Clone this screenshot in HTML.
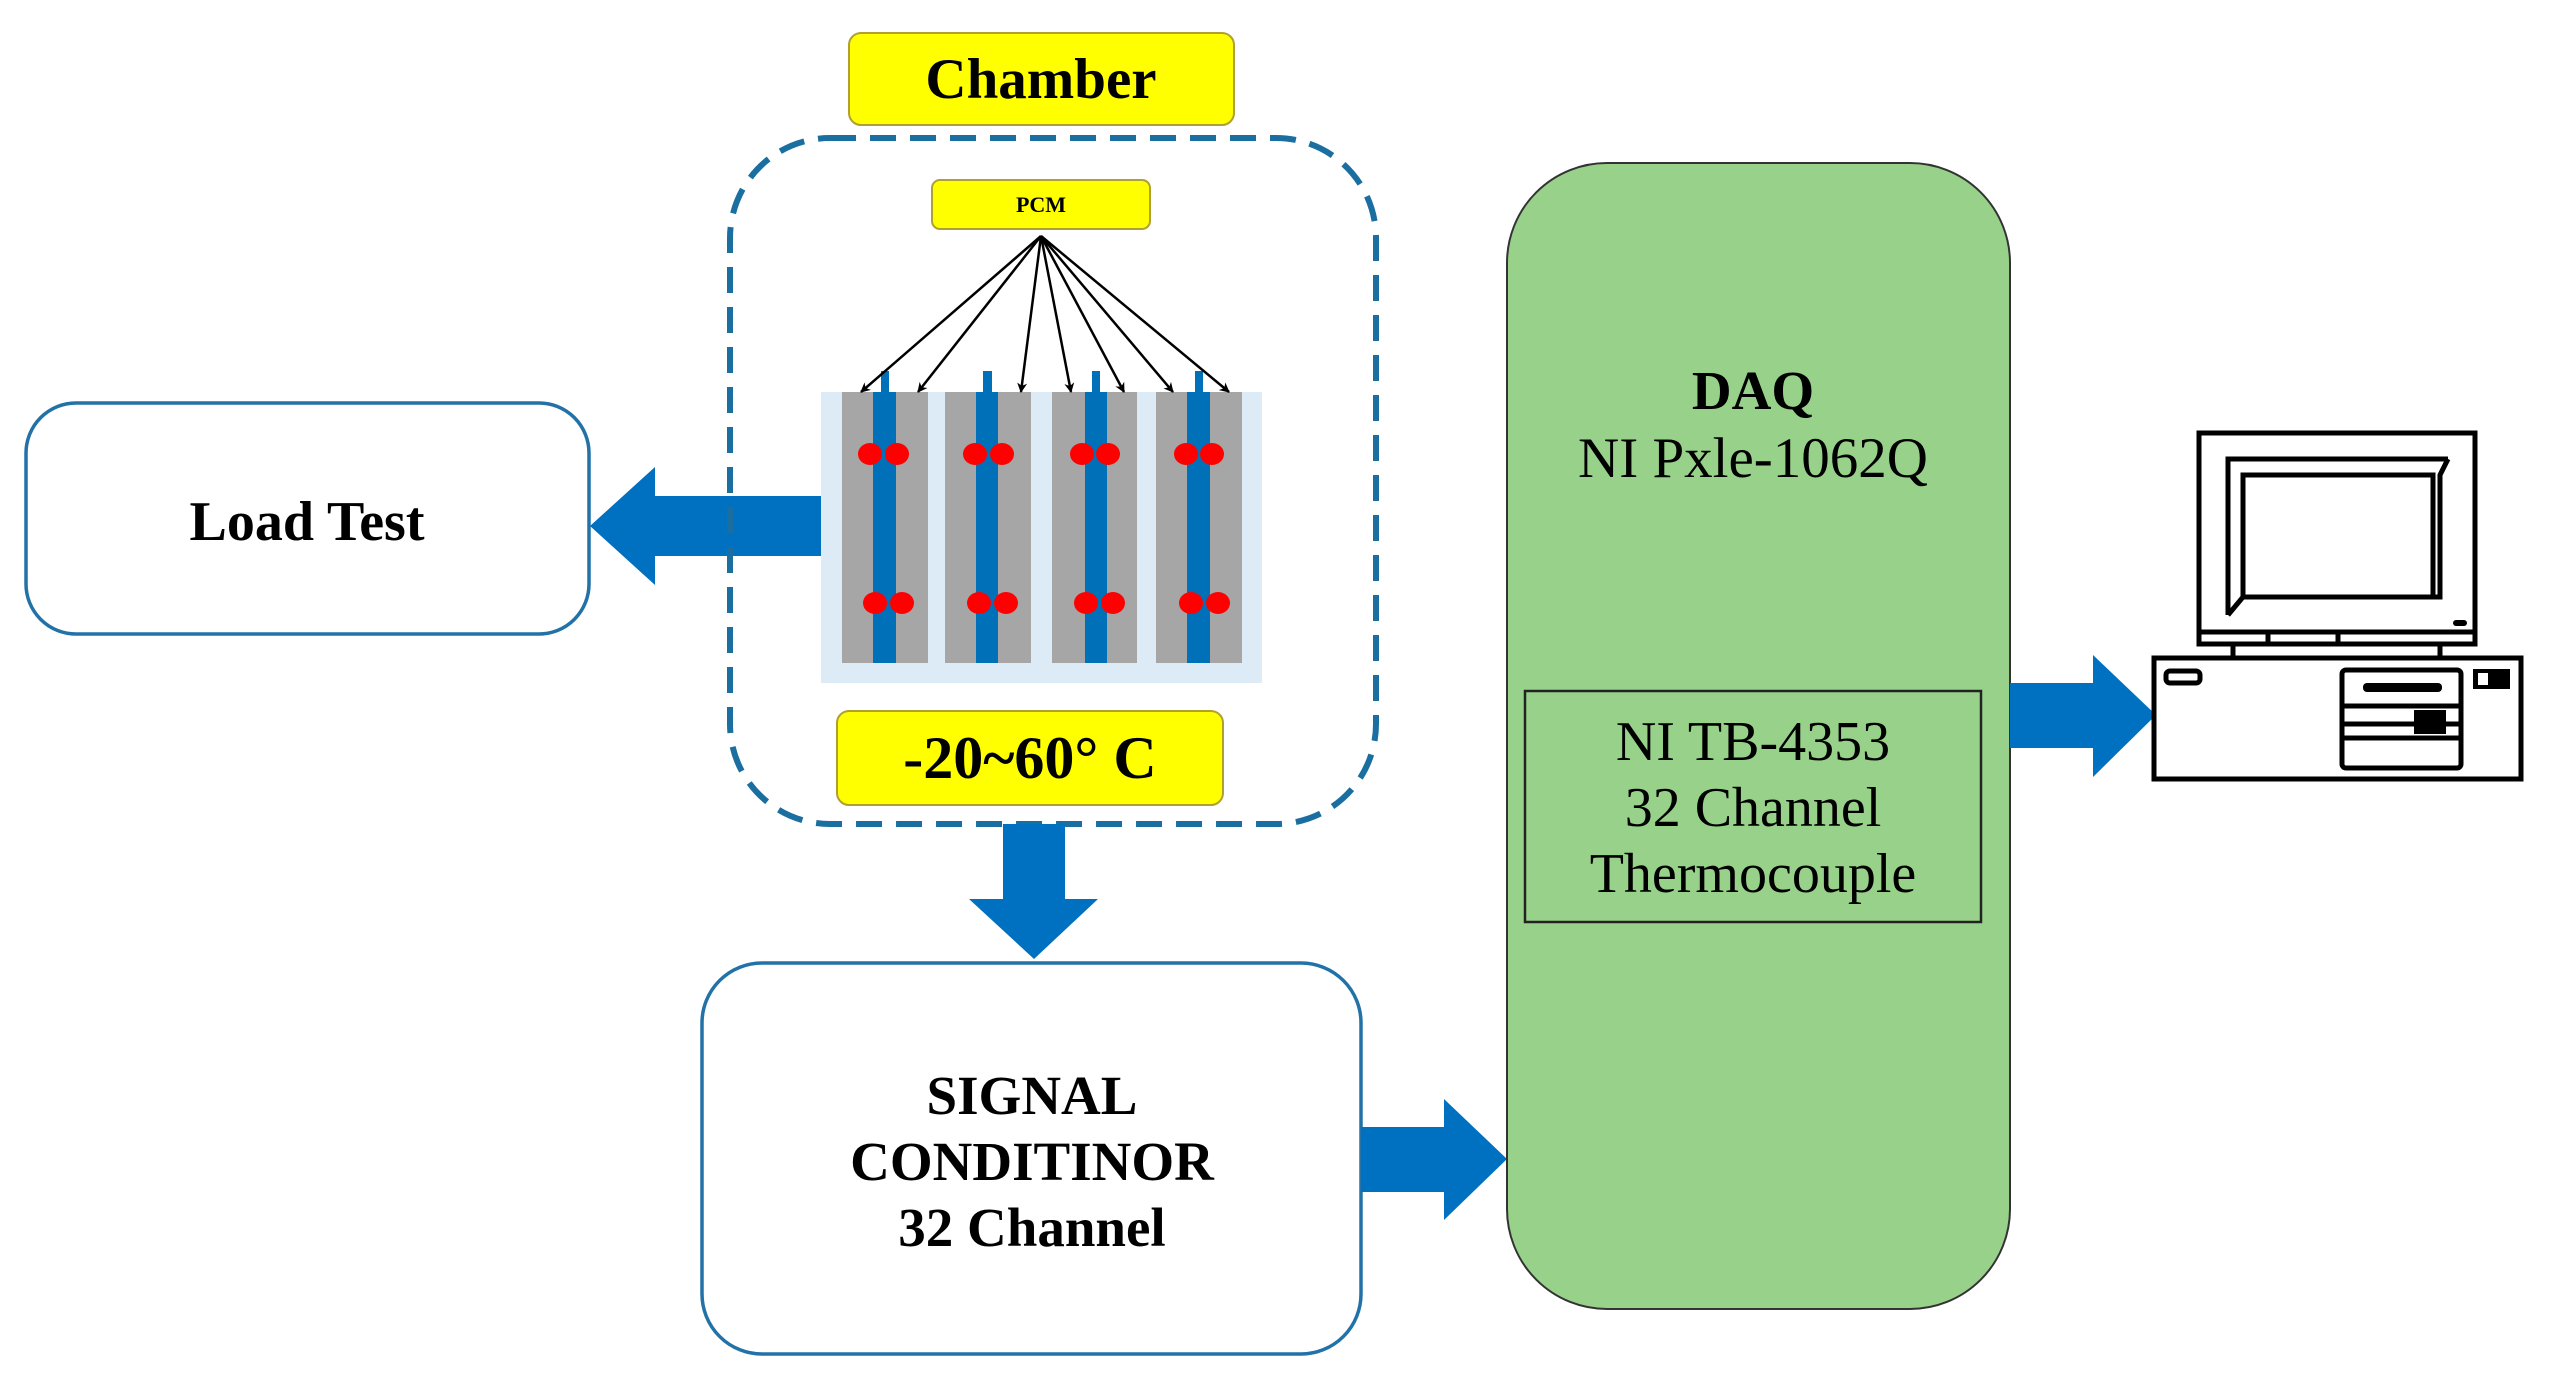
<!DOCTYPE html>
<html><head><meta charset="utf-8"><style>html,body{margin:0;padding:0;background:#fff}svg{display:block}</style></head>
<body>
<svg width="2550" height="1383" viewBox="0 0 2550 1383" xmlns="http://www.w3.org/2000/svg" font-family="'Liberation Serif', serif">
<defs>
<marker id="ah" markerWidth="10" markerHeight="10" refX="9" refY="5" orient="auto" markerUnits="userSpaceOnUse"><path d="M0,0 L10,5 L0,10 L3,5 Z" fill="#000"/></marker>
</defs>
<rect x="26" y="403" width="563" height="231" rx="50" fill="#fff" stroke="#2272a8" stroke-width="3.5"/>
<text x="307" y="540" font-size="56" font-weight="bold" text-anchor="middle">Load Test</text>
<polygon points="821,496 655,496 655,467 590,526 655,585 655,556 821,556" fill="#0070c0"/>
<rect x="849" y="33" width="385" height="92" rx="12" fill="#ffff00" stroke="#b0a030" stroke-width="2"/>
<text x="1041" y="98" font-size="57" font-weight="bold" text-anchor="middle">Chamber</text>
<rect x="730" y="138" width="646" height="686" rx="100" fill="none" stroke="#1a6fa0" stroke-width="6" stroke-dasharray="26,14"/>
<rect x="932" y="180" width="218" height="49" rx="8" fill="#ffff00" stroke="#b0a030" stroke-width="2"/>
<text x="1041" y="212" font-size="22" font-weight="bold" text-anchor="middle">PCM</text>
<rect x="821" y="392" width="441" height="291" fill="#ddebf7"/>
<g fill="#a6a6a6">
<rect x="842" y="392" width="86" height="271"/>
<rect x="945" y="392" width="86" height="271"/>
<rect x="1052" y="392" width="85" height="271"/>
<rect x="1156" y="392" width="86" height="271"/>
</g>
<g fill="#0070b8">
<rect x="873" y="392" width="23" height="271"/><rect x="881" y="371" width="8" height="21"/>
<rect x="976" y="392" width="22" height="271"/><rect x="983" y="371" width="9" height="21"/>
<rect x="1085" y="392" width="22" height="271"/><rect x="1092" y="371" width="8" height="21"/>
<rect x="1187" y="392" width="23" height="271"/><rect x="1195" y="371" width="8" height="21"/>
</g>
<g fill="#ff0000">
<ellipse cx="870" cy="454" rx="12" ry="11"/><ellipse cx="897" cy="454" rx="12" ry="11"/>
<ellipse cx="975" cy="454" rx="12" ry="11"/><ellipse cx="1002" cy="454" rx="12" ry="11"/>
<ellipse cx="1082" cy="454" rx="12" ry="11"/><ellipse cx="1108" cy="454" rx="12" ry="11"/>
<ellipse cx="1186" cy="454" rx="12" ry="11"/><ellipse cx="1212" cy="454" rx="12" ry="11"/>
<ellipse cx="875" cy="603" rx="12" ry="11"/><ellipse cx="902" cy="603" rx="12" ry="11"/>
<ellipse cx="979" cy="603" rx="12" ry="11"/><ellipse cx="1006" cy="603" rx="12" ry="11"/>
<ellipse cx="1086" cy="603" rx="12" ry="11"/><ellipse cx="1113" cy="603" rx="12" ry="11"/>
<ellipse cx="1191" cy="603" rx="12" ry="11"/><ellipse cx="1218" cy="603" rx="12" ry="11"/>
</g>
<g stroke="#000" stroke-width="2.5" marker-end="url(#ah)">
<line x1="1041" y1="236" x2="861" y2="392"/>
<line x1="1041" y1="236" x2="918" y2="392"/>
<line x1="1041" y1="236" x2="1021" y2="392"/>
<line x1="1041" y1="236" x2="1071" y2="392"/>
<line x1="1041" y1="236" x2="1124" y2="392"/>
<line x1="1041" y1="236" x2="1173" y2="392"/>
<line x1="1041" y1="236" x2="1229" y2="392"/>
</g>
<rect x="837" y="711" width="386" height="94" rx="12" fill="#ffff00" stroke="#b0a030" stroke-width="2"/>
<text x="1030" y="778" font-size="60" font-weight="bold" text-anchor="middle">-20~60° C</text>
<polygon points="1003,824 1065,824 1065,899 1098,899 1034,959 969,899 1003,899" fill="#0070c0"/>
<rect x="702" y="963" width="659" height="391" rx="60" fill="#fff" stroke="#2272a8" stroke-width="3.5"/>
<g font-size="55" font-weight="bold" text-anchor="middle">
<text x="1032" y="1114">SIGNAL</text>
<text x="1032" y="1180">CONDITINOR</text>
<text x="1032" y="1246">32 Channel</text>
</g>
<polygon points="1361,1127 1444,1127 1444,1099 1507,1159 1444,1220 1444,1192 1361,1192" fill="#0070c0"/>
<rect x="1507" y="163" width="503" height="1146" rx="100" fill="#98d28a" stroke="#333" stroke-width="2"/>
<text x="1753" y="409" font-size="55" font-weight="bold" text-anchor="middle">DAQ</text>
<text x="1753" y="477" font-size="57" text-anchor="middle">NI Pxle-1062Q</text>
<rect x="1525" y="691" width="456" height="231" fill="none" stroke="#222" stroke-width="2.5"/>
<g font-size="56" text-anchor="middle">
<text x="1753" y="760">NI TB-4353</text>
<text x="1753" y="826">32 Channel</text>
<text x="1753" y="892">Thermocouple</text>
</g>
<polygon points="2010,683 2093,683 2093,655 2156,715 2093,777 2093,748 2010,748" fill="#0070c0"/>
<g fill="none" stroke="#000" stroke-width="5">
<rect x="2199" y="433" width="276" height="211"/>
<path d="M2228,615 L2228,459 L2448,459"/>
<rect x="2243" y="475" width="190" height="122"/>
<path d="M2228,615 L2243,597 M2448,459 L2440,475 L2440,597 L2433,597"/>
<line x1="2199" y1="632" x2="2475" y2="632"/>
<line x1="2268" y1="632" x2="2268" y2="644"/><line x1="2338" y1="632" x2="2338" y2="644"/>
<line x1="2233" y1="644" x2="2233" y2="658"/><line x1="2440" y1="644" x2="2440" y2="658"/>
<rect x="2154" y="658" width="367" height="121"/>
<rect x="2166" y="671" width="34" height="12" rx="4"/>
<rect x="2342" y="670" width="119" height="98" rx="4"/>
<line x1="2342" y1="706" x2="2461" y2="706"/>
<line x1="2342" y1="724" x2="2461" y2="724"/>
<line x1="2342" y1="738" x2="2461" y2="738"/>
</g>
<rect x="2363" y="683" width="79" height="9" rx="4" fill="#000"/>
<rect x="2414" y="710" width="32" height="24" fill="#000"/>
<rect x="2473" y="669" width="37" height="20" fill="#000"/>
<rect x="2478" y="673" width="10" height="12" fill="#fff"/>
<rect x="2453" y="620" width="14" height="6" rx="3" fill="#000"/>
</svg>
</body></html>
